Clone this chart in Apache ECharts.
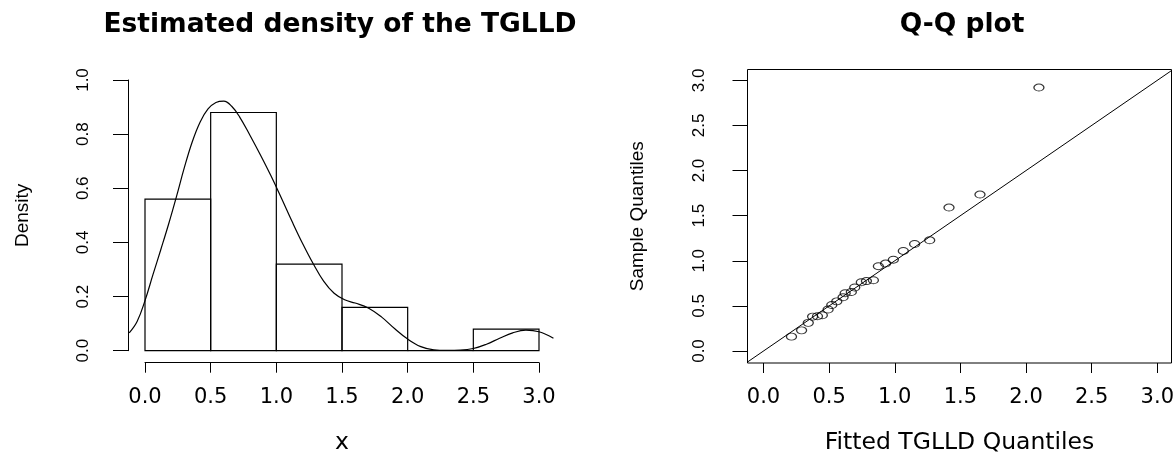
<!DOCTYPE html>
<html>
<head>
<meta charset="utf-8">
<script src="https://cdn.jsdelivr.net/npm/echarts@6/dist/echarts.min.js"></script>
<style>
  html, body { margin: 0; padding: 0; background: #fff; }
  #main { width: 1176px; height: 455px; }
</style>
</head>
<body>
<div id="main"></div>
<script>
// histogram bins (density scale)
var binStart = [0, 0.5, 1.0, 1.5, 2.0, 2.5];
var binEnd = [0.5, 1.0, 1.5, 2.0, 2.5, 3.0];
var binDensity = [0.56, 0.88, 0.32, 0.16, 0, 0.08];

// estimated density curve
var densX = [-0.12, -0.06, 0, 0.06, 0.12, 0.18, 0.24, 0.30, 0.36, 0.42, 0.48, 0.54, 0.60, 0.66, 0.72, 0.80, 0.88,
  0.96, 1.04, 1.12, 1.20, 1.28, 1.36, 1.44, 1.52, 1.60, 1.70, 1.80, 1.90, 2.00, 2.10, 2.20, 2.30, 2.40, 2.50,
  2.60, 2.70, 2.80, 2.90, 3.00, 3.11];
var densY = [0.066, 0.108, 0.185, 0.28, 0.373, 0.468, 0.57, 0.677, 0.772, 0.845, 0.893, 0.917, 0.922, 0.903, 0.864,
  0.795, 0.722, 0.645, 0.562, 0.477, 0.396, 0.322, 0.257, 0.212, 0.188, 0.176, 0.158, 0.125, 0.082, 0.043, 0.015,
  0.003, 0.001, 0.002, 0.008, 0.024, 0.046, 0.066, 0.076, 0.07, 0.046];

// Q-Q plot
var fittedQ = [0.213, 0.29, 0.341, 0.374, 0.411, 0.448, 0.492, 0.52, 0.558, 0.606, 0.622, 0.669, 0.695, 0.745, 0.784,
  0.837, 0.875, 0.93, 0.989, 1.065, 1.151, 1.266, 1.413, 1.649, 2.098];
var sampleQ = [0.159, 0.229, 0.312, 0.381, 0.385, 0.396, 0.46, 0.51, 0.55, 0.595, 0.64, 0.654, 0.704, 0.762, 0.775,
  0.784, 0.94, 0.969, 1.012, 1.109, 1.186, 1.227, 1.59, 1.734, 2.92];
var refLine = [-0.3, 3.3];

var qTicks = [0, 0.5, 1.0, 1.5, 2.0, 2.5, 3.0];

// left panel pixel frame: x 0..3 -> 145..539, y 0..1 -> 350.7..80
var X0 = 145, X3 = 539, PX = (X3 - X0) / 3;
var histMin = -0.13, histMax = 3.13;

var chart = echarts.init(document.getElementById('main'));

var fmt = function (v) { return Number(v).toFixed(1); };
var hLabel = { fontFamily: 'DejaVu Sans', fontSize: 21, color: '#000' };
var hName = { fontFamily: 'DejaVu Sans', fontSize: 23.5, color: '#000' };
var vLabel = { fontFamily: 'Liberation Sans', fontSize: 17, color: '#000' };
var vName = { fontFamily: 'Liberation Sans', fontSize: 19, color: '#000' };

var option = {
  animation: false,
  backgroundColor: '#fff',
  title: [
    {
      text: 'Estimated density of the TGLLD',
      left: 335, top: 7, textAlign: 'center',
      textStyle: { fontFamily: 'DejaVu Sans', fontWeight: 'bold', fontSize: 26.5, color: '#000' }
    },
    {
      text: 'Q-Q plot',
      left: 957, top: 7, textAlign: 'center',
      textStyle: { fontFamily: 'DejaVu Sans', fontWeight: 'bold', fontSize: 26.5, color: '#000' }
    }
  ],
  grid: [
    // axes of the histogram (tick range only)
    { left: X0, right: 1176 - X3, top: 80, bottom: 104.3, outerBoundsMode: 'none' },
    // Q-Q box
    {
      left: 747.5, right: 4.5, top: 69.5, bottom: 92,
      show: true, borderColor: '#000', borderWidth: 1, backgroundColor: 'transparent',
      outerBoundsMode: 'none'
    },
    // histogram plotting region (full user range)
    {
      left: X0 + histMin * PX, right: 1176 - (X0 + histMax * PX), top: 80, bottom: 104.3,
      outerBoundsMode: 'none'
    }
  ],
  xAxis: [
    {
      type: 'value', gridIndex: 0, min: 0, max: 3, interval: 0.5, offset: 12,
      name: 'x', nameLocation: 'middle', nameGap: 68,
      nameTextStyle: hName,
      axisLine: { show: true, onZero: false, lineStyle: { color: '#000', width: 1 } },
      axisTick: { show: true, length: 10, lineStyle: { color: '#000' } },
      axisLabel: Object.assign({ margin: 24, formatter: fmt }, hLabel),
      splitLine: { show: false }
    },
    {
      type: 'value', gridIndex: 1, min: -0.122, max: 3.108,
      name: 'Fitted TGLLD Quantiles', nameLocation: 'middle', nameGap: 68,
      nameTextStyle: hName,
      axisLine: { show: false, onZero: false },
      axisTick: { show: true, length: 10, customValues: qTicks, lineStyle: { color: '#000' } },
      axisLabel: Object.assign({ margin: 24, formatter: fmt, customValues: qTicks }, hLabel),
      splitLine: { show: false }
    },
    {
      type: 'value', gridIndex: 2, min: histMin, max: histMax, show: false
    }
  ],
  yAxis: [
    {
      type: 'value', gridIndex: 0, min: 0, max: 1, interval: 0.2, offset: 17,
      name: 'Density', nameLocation: 'middle', nameGap: 96,
      nameTextStyle: vName,
      axisLine: { show: true, onZero: false, lineStyle: { color: '#000', width: 1 } },
      axisTick: { show: true, length: 15, lineStyle: { color: '#000' } },
      axisLabel: Object.assign({ margin: 36, rotate: 90, formatter: fmt }, vLabel),
      splitLine: { show: false }
    },
    {
      type: 'value', gridIndex: 1, min: -0.133, max: 3.12,
      name: 'Sample Quantiles', nameLocation: 'middle', nameGap: 100,
      nameTextStyle: vName,
      axisLine: { show: false, onZero: false },
      axisTick: { show: true, length: 15, customValues: qTicks, lineStyle: { color: '#000' } },
      axisLabel: Object.assign({ margin: 40, rotate: 90, formatter: fmt, customValues: qTicks }, vLabel),
      splitLine: { show: false }
    },
    {
      type: 'value', gridIndex: 2, min: 0, max: 1, show: false
    }
  ],
  series: [
    {
      type: 'custom',
      xAxisIndex: 2, yAxisIndex: 2,
      data: binStart.map(function (s, i) { return [s, binEnd[i], binDensity[i]]; }),
      encode: { x: [0, 1], y: 2 },
      renderItem: function (params, api) {
        var p0 = api.coord([api.value(0), api.value(2)]);
        var p1 = api.coord([api.value(1), 0]);
        return {
          type: 'rect',
          shape: { x: p0[0], y: p0[1], width: p1[0] - p0[0], height: p1[1] - p0[1] },
          style: { fill: 'none', stroke: '#000', lineWidth: 1.2 }
        };
      }
    },
    {
      type: 'line',
      xAxisIndex: 2, yAxisIndex: 2,
      data: densX.map(function (x, i) { return [x, densY[i]]; }),
      smooth: 0.4,
      clip: false,
      showSymbol: false,
      lineStyle: { color: '#000', width: 1.2 }
    },
    {
      type: 'line',
      xAxisIndex: 1, yAxisIndex: 1,
      data: refLine.map(function (v) { return [v, v]; }),
      clip: true,
      showSymbol: false,
      lineStyle: { color: '#000', width: 1 }
    },
    {
      type: 'scatter',
      xAxisIndex: 1, yAxisIndex: 1,
      data: fittedQ.map(function (x, i) { return [x, sampleQ[i]]; }),
      symbol: 'circle',
      symbolSize: [10, 7],
      itemStyle: { color: 'transparent', borderColor: '#000', borderWidth: 1.1 }
    }
  ]
};

chart.setOption(option);
</script>
</body>
</html>
